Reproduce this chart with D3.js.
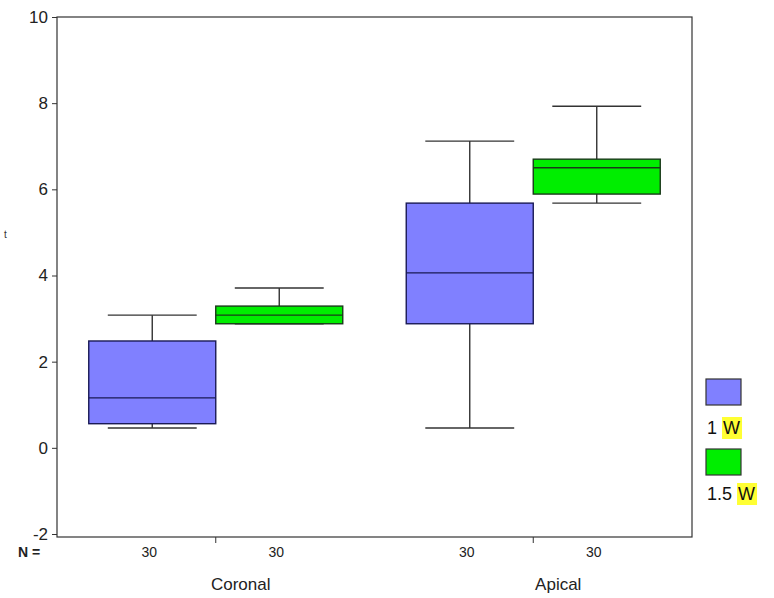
<!DOCTYPE html>
<html><head><meta charset="utf-8">
<script src="https://cdn.jsdelivr.net/npm/d3@7"></script>
<style>body{margin:0;background:#fff}svg{display:block;font-family:Arial,"Liberation Sans",sans-serif}</style>
</head><body><svg id="c" width="774" height="598"></svg>
<script>
const categories = ["Coronal", "Apical"];
const series = ["1 W", "1.5 W"];
const seriesColors = ["#8080ff", "#00ee00"];
// [lowerWhisker, q1, median, q3, upperWhisker] per category per series
const stats1W   = [[0.46, 0.56, 1.16, 2.48, 3.08], [0.46, 2.88, 4.06, 5.68, 7.12]];
const stats15W  = [[2.88, 2.88, 3.08, 3.29, 3.71], [5.68, 5.89, 6.50, 6.70, 7.93]];
const counts    = [[30, 30], [30, 30]];
const yTicks = [-2, 0, 2, 4, 6, 8, 10];

const svg = d3.select("#c");
const L = 57, R = 692, T = 17, B = 534;
const y = d3.scaleLinear().domain([-2, 10]).range([B, T]);
const x = d3.scaleBand().domain(categories).range([L, R]).padding(0);
const xs = d3.scaleBand().domain(series).range([-127, 127]).padding(0);
const stats = [stats1W, stats15W];

// frame
svg.append("rect").attr("x", L).attr("y", T).attr("width", R - L).attr("height", 537 - T)
  .attr("fill", "none").attr("stroke", "#333").attr("stroke-width", 1.2);

// y axis
const ya = svg.append("g").attr("transform", `translate(${L},0)`)
  .call(d3.axisLeft(y).tickValues(yTicks).tickFormat(d => String(d)).tickSize(5).tickPadding(4));
ya.select(".domain").remove();
ya.selectAll("line").attr("stroke", "#333");
ya.selectAll("text").attr("font-size", 17).attr("fill", "#222").attr("font-family", "Arial, Liberation Sans, sans-serif");

svg.append("text").attr("x", 4).attr("y", 238).attr("font-size", 10).attr("fill", "#333").text("t");

// x ticks at category centres
categories.forEach(c => {
  const cx = x(c) + x.bandwidth() / 2;
  svg.append("line").attr("x1", cx).attr("x2", cx).attr("y1", 537).attr("y2", 543).attr("stroke", "#333");
  svg.append("text").attr("x", cx + 25).attr("y", 590).attr("text-anchor", "middle")
    .attr("font-size", 17).attr("fill", "#222").text(c);
});
svg.append("text").attr("x", 18).attr("y", 557).attr("font-size", 14).attr("fill", "#222")
  .attr("font-weight", "bold").text("N =");

// boxes
series.forEach((s, si) => {
  categories.forEach((c, ci) => {
    const [lo, q1, md, q3, hi] = stats[si][ci];
    const x0 = x(c) + x.bandwidth() / 2 + xs(s);
    const w = xs.bandwidth();
    const cx = x0 + w / 2;
    const capW = w * 0.7;
    const g = svg.append("g");
    g.append("line").attr("x1", cx).attr("x2", cx).attr("y1", y(hi)).attr("y2", y(q3)).attr("stroke", "#333").attr("stroke-width", 1.4);
    g.append("line").attr("x1", cx).attr("x2", cx).attr("y1", y(lo)).attr("y2", y(q1)).attr("stroke", "#333").attr("stroke-width", 1.4);
    g.append("line").attr("x1", cx - capW / 2).attr("x2", cx + capW / 2).attr("y1", y(hi)).attr("y2", y(hi)).attr("stroke", "#333").attr("stroke-width", 1.4);
    g.append("line").attr("x1", cx - capW / 2).attr("x2", cx + capW / 2).attr("y1", y(lo)).attr("y2", y(lo)).attr("stroke", "#333").attr("stroke-width", 1.4);
    g.append("rect").attr("x", x0).attr("y", y(q3)).attr("width", w).attr("height", y(q1) - y(q3))
      .attr("fill", seriesColors[si]).attr("stroke", si === 0 ? "#1a1a55" : "#1a3a1a").attr("stroke-width", 1.4);
    g.append("line").attr("x1", x0).attr("x2", x0 + w).attr("y1", y(md)).attr("y2", y(md)).attr("stroke", si === 0 ? "#1a1a55" : "#1a3a1a").attr("stroke-width", 1.4);
    svg.append("text").attr("x", cx - 3).attr("y", 557).attr("text-anchor", "middle")
      .attr("font-size", 14).attr("fill", "#222").text(counts[ci][si]);
  });
});

// legend
const leg = [{y: 379, ty: 434}, {y: 449, ty: 500}];
series.forEach((s, si) => {
  svg.append("rect").attr("x", 706).attr("y", leg[si].y).attr("width", 35).attr("height", 26)
    .attr("fill", seriesColors[si]).attr("stroke", "#333").attr("stroke-width", 1.2);
  const parts = s.split(" ");
  const t = svg.append("text").attr("x", 707).attr("y", leg[si].ty).attr("font-size", 18).attr("fill", "#111")
    .text(parts[0] + "\u00a0");
  const bbox = t.node().getBBox();
  const wx = bbox.x + bbox.width + 1;
  svg.append("rect").attr("x", wx - 1).attr("y", leg[si].ty - 17).attr("width", 20).attr("height", 22).attr("fill", "#ffff33");
  svg.append("text").attr("x", wx).attr("y", leg[si].ty).attr("font-size", 18).attr("fill", "#111").text(parts[1]);
});
</script></body></html>
